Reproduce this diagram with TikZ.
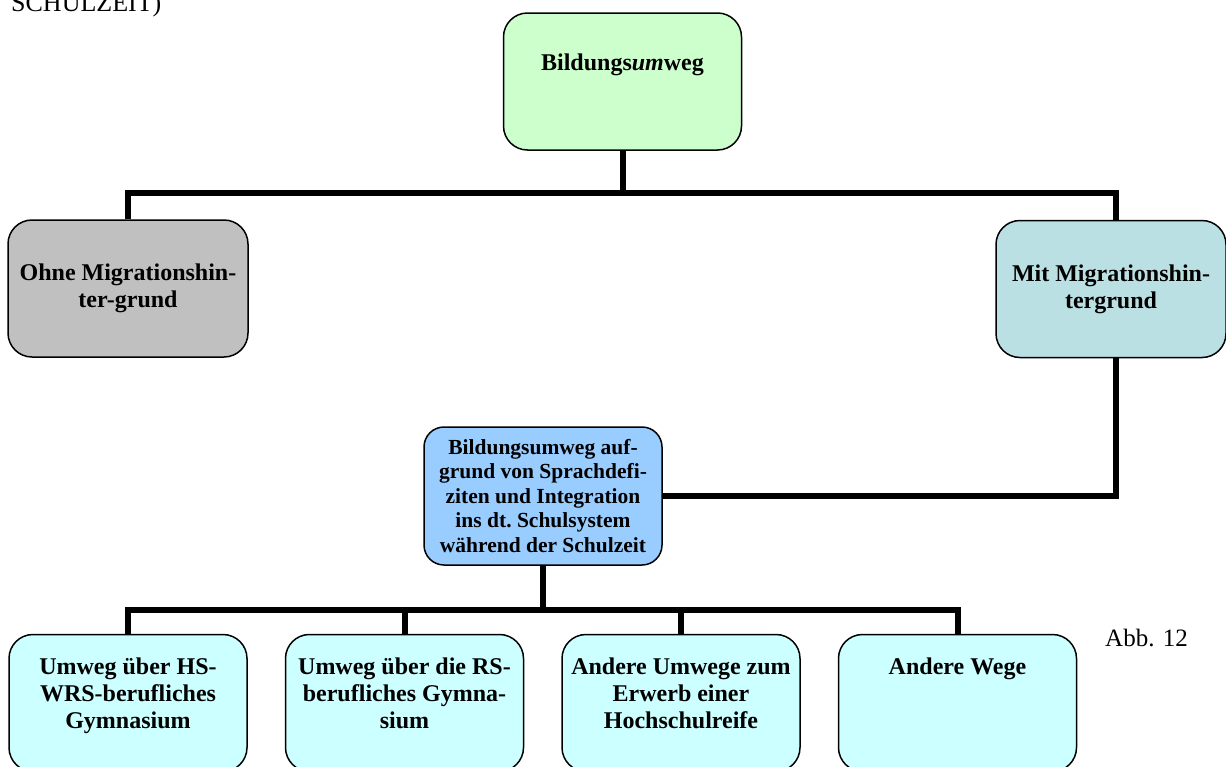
\documentclass[tikz,border=0pt]{standalone}
\usepackage{fontspec}
\setmainfont{Liberation Serif}
\definecolor{topgreen}{HTML}{CCFFCC}
\definecolor{ohnegray}{HTML}{C0C0C0}
\definecolor{mitteal}{HTML}{BBE0E3}
\definecolor{midblue}{HTML}{99CCFF}
\definecolor{leafcyan}{HTML}{CCFFFF}
\tikzset{
  box/.style={draw=black, line width=1.5pt, rounded corners=24pt, inner sep=0pt,
    minimum width=238pt, minimum height=137pt},
  link/.style={line width=6pt, line cap=butt, line join=miter},
}
\newcommand{\bigtxt}{\bfseries\fontsize{24}{27}\selectfont}
\newcommand{\midtxt}{\bfseries\fontsize{21.5}{24.5}\selectfont}
\begin{document}
\begin{tikzpicture}[x=1pt,y=-1pt]
\useasboundingbox (0,0) rectangle (1226,766);
\clip (0,0) rectangle (1226,766);

% caption line running off the top edge
\node[anchor=base west, inner sep=0pt, font=\fontsize{26}{28}\selectfont] (cap) at (11,11) {SCHULZEIT)};

% first level
\node[box, fill=topgreen] (root) at (622.5,81.5)
  {\parbox[c][137pt][t]{220pt}{\centering\vspace*{41pt}\bigtxt Bildungs\textit{um}weg}};
\node[box, fill=ohnegray, minimum width=240pt] (ohne) at (128,288.5)
  {\parbox[c][137pt][c]{232pt}{\centering\bigtxt Ohne Migrationshin-\\ter-grund}};
\node[box, fill=mitteal, minimum width=230pt] (mit) at (1111,289)
  {\parbox[c][137pt][c]{222pt}{\centering\bigtxt Mit Migrationshin-\\tergrund}};

% second level
\node[box, fill=midblue, rounded corners=20pt] (sprach) at (543,496)
  {\parbox[c][138pt][c]{230pt}{\centering\midtxt Bildungsumweg auf-\\grund von Sprachdefi-\\ziten und Integration\\ins dt.\ Schulsystem\\während der Schulzeit}};

% third level
\node[box, fill=leafcyan] (hs) at (128,703)
  {\parbox[c][137pt][t]{230pt}{\centering\vspace*{23pt}\bigtxt Umweg über HS-\\WRS-berufliches\\Gymnasium}};
\node[box, fill=leafcyan] (rs) at (404.5,703)
  {\parbox[c][137pt][t]{230pt}{\centering\vspace*{23pt}\bigtxt Umweg über die RS-\\berufliches Gymna-\\sium}};
\node[box, fill=leafcyan] (andere) at (681,703)
  {\parbox[c][137pt][t]{236pt}{\centering\vspace*{23pt}\bigtxt Andere Umwege zum\\Erwerb einer\\Hochschulreife}};
\node[box, fill=leafcyan] (wege) at (957.5,703)
  {\parbox[c][137pt][t]{230pt}{\centering\vspace*{23pt}\bigtxt Andere Wege}};

\node[anchor=base west, inner sep=0pt, font=\fontsize{25}{28}\selectfont] (abb) at (1105,646) {Abb. 12};

% connectors
\coordinate (bar1) at (622.5,193);
\draw[link] (root.south) -- (bar1);
\draw[link] (ohne.north) |- (bar1) -| (1116,220);
\coordinate (mitfoot) at (1116,358);
\draw[link] (mitfoot) |- (sprach.east |- 0,496);
\coordinate (bar2) at (543,610);
\draw[link] (sprach.south) -- (bar2);
\draw[link] (hs.north) |- (bar2) -| (wege.north);
\draw[link] (rs.north) -- (rs.north |- bar2);
\draw[link] (andere.north) -- (andere.north |- bar2);
\end{tikzpicture}
\end{document}
